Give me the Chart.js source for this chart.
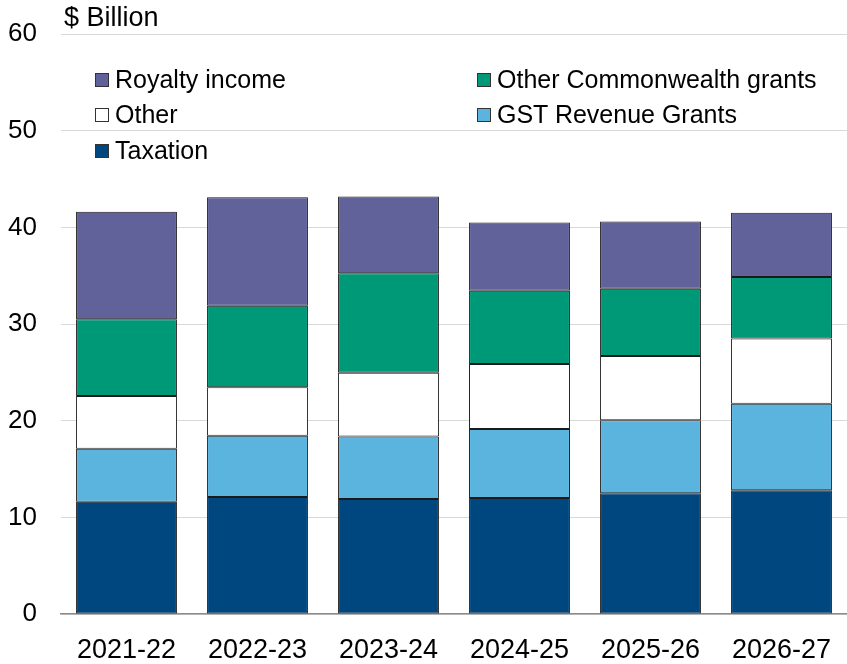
<!DOCTYPE html>
<html>
<head>
<meta charset="utf-8">
<script src="https://cdn.jsdelivr.net/npm/chart.js@4.4.1/dist/chart.umd.min.js"></script>
<style>
    body { margin: 0; background: #fff; }
    #wrap { position: relative; width: 847px; height: 664px; font-family: "Liberation Sans", Arial, sans-serif; }
    #unit { position: absolute; left: 64px; top: 2px; font-size: 27px; color: #000; }
    .key { position: absolute; font-size: 25px; color: #000; line-height: 28px; white-space: nowrap; }
    .key i { display: inline-block; width: 12px; height: 12px; border: 1px solid #333; margin-right: 6px; vertical-align: 1px; }
</style>
</head>
<body>
<div id="wrap">
    <canvas id="revenueChart" width="847" height="664"></canvas>
    <div id="unit">$ Billion</div>
    <div id="legend"></div>
</div>
<script>
var years = ['2021-22', '2022-23', '2023-24', '2024-25', '2025-26', '2026-27'];

var taxation = [11.6, 12.1, 11.9, 12.0, 12.5, 12.8];
var gstGrants = [5.5, 6.35, 6.45, 7.15, 7.55, 8.95];
var other = [5.45, 5.0, 6.6, 6.7, 6.65, 6.75];
var otherCwthGrants = [7.95, 8.45, 10.3, 7.6, 6.95, 6.35];
var royalty = [11.1, 11.2, 7.95, 7.05, 6.95, 6.65];

var yTicks = [0, 10, 20, 30, 40, 50, 60];

// bottom to top
var series = [
    {label: 'Taxation', data: taxation, color: '#00467f'},
    {label: 'GST Revenue Grants', data: gstGrants, color: '#5bb4de'},
    {label: 'Other', data: other, color: '#ffffff'},
    {label: 'Other Commonwealth grants', data: otherCwthGrants, color: '#009978'},
    {label: 'Royalty income', data: royalty, color: '#62629b'}
];

// legend laid out in two columns inside the plot
var legendSpots = {
    'Royalty income': [95, 65],
    'Other Commonwealth grants': [477, 65],
    'Other': [95, 100],
    'GST Revenue Grants': [477, 100],
    'Taxation': [95, 136]
};

var legendEl = document.getElementById('legend');
series.forEach(function (s) {
    var spot = legendSpots[s.label];
    var div = document.createElement('div');
    div.className = 'key';
    div.style.left = spot[0] + 'px';
    div.style.top = spot[1] + 'px';
    div.innerHTML = '<i style="background:' + s.color + '"></i>' + s.label;
    legendEl.appendChild(div);
});

var datasets = series.map(function (s) {
    return {
        label: s.label,
        data: s.data,
        backgroundColor: s.color,
        borderColor: '#1a1a1a',
        borderWidth: 1,
        borderSkipped: false,
        categoryPercentage: 0.77,
        barPercentage: 1.0
    };
});

Chart.defaults.font.family = '"Liberation Sans", Arial, sans-serif';
Chart.defaults.color = '#000';

new Chart(document.getElementById('revenueChart').getContext('2d'), {
    type: 'bar',
    data: {
        labels: years,
        datasets: datasets
    },
    options: {
        responsive: false,
        animation: false,
        layout: {
            padding: {top: 34, right: 0, bottom: 0, left: 0}
        },
        plugins: {
            legend: {display: false},
            tooltip: {enabled: false}
        },
        scales: {
            x: {
                stacked: true,
                grid: {display: false, drawTicks: false},
                border: {display: true, color: '#8c8c8c', width: 1.5},
                ticks: {font: {size: 27}, padding: 20, maxRotation: 0},
                afterFit: function (scale) {
                    scale.height = 50;
                    scale.paddingLeft = 0;
                    scale.paddingRight = 0;
                }
            },
            y: {
                stacked: true,
                min: 0,
                max: 60,
                afterBuildTicks: function (scale) {
                    scale.ticks = yTicks.map(function (v) {
                        return {value: v};
                    });
                },
                grid: {color: '#d9d9d9', lineWidth: 1, drawTicks: false},
                border: {display: false},
                ticks: {font: {size: 26}, padding: 24},
                afterFit: function (scale) {
                    // keep the plot top pinned to the layout padding
                    scale.width = 61;
                    scale.paddingTop = 0;
                    scale.paddingBottom = 0;
                }
            }
        }
    }
});
</script>
</body>
</html>
